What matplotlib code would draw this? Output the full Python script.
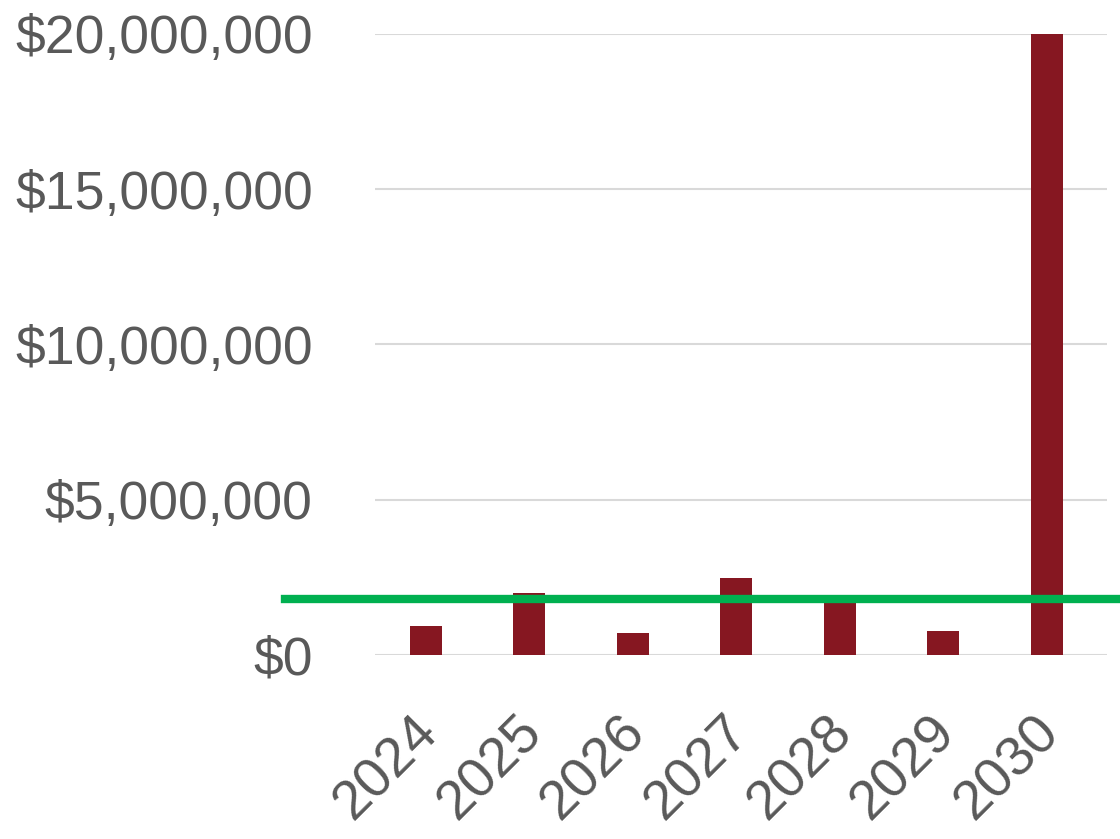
import matplotlib.pyplot as plt
import matplotlib.transforms as mtransforms
from matplotlib.ticker import FuncFormatter

# Data
years = ["2024", "2025", "2026", "2027", "2028", "2029", "2030"]
values = [950000, 1990000, 710000, 2490000, 1850000, 760000, 20000000]
reference_level = 1790000
y_ticks = [0, 5000000, 10000000, 15000000, 20000000]

bar_color = "#861721"
line_color = "#00b050"
text_color = "#595959"
grid_color = "#d9d9d9"

plt.rcParams['font.family'] = ['Liberation Sans', 'DejaVu Sans']

fig = plt.figure(figsize=(11.2, 8.39), dpi=100)
ax = fig.add_axes([0.335, 0.2193, 0.653, 0.7402])

x = range(len(years))
ax.bar(x, values, width=0.31, color=bar_color, zorder=3)

# Green reference line runs past the left edge of the plot area
ax.axhline(reference_level, xmin=-0.123, xmax=1.02, color=line_color,
           linewidth=6, clip_on=False, zorder=4)

ax.set_xlim(-0.49, 6.58)
ax.set_ylim(0, 20000000)
ax.set_yticks(y_ticks)
ax.yaxis.set_major_formatter(FuncFormatter(lambda v, p: f"${v:,.0f}"))
ax.set_xticks(list(x))
ax.set_xticklabels(years, rotation=45, ha='right', rotation_mode='anchor')

ax.grid(axis='y', color=grid_color, linewidth=1.5, zorder=0)
ax.set_axisbelow(True)
for s in ax.spines.values():
    s.set_visible(False)
ax.tick_params(axis='both', length=0, labelcolor=text_color)
ax.tick_params(axis='y', pad=45, labelsize=38.5)
ax.tick_params(axis='x', pad=37, labelsize=40)

# nudge the slanted year labels a little to the left
shift = mtransforms.ScaledTranslation(-14 / 100, 0, fig.dpi_scale_trans)
for lbl in ax.get_xticklabels():
    lbl.set_transform(lbl.get_transform() + shift)

fig.savefig("out.png", dpi=100)
